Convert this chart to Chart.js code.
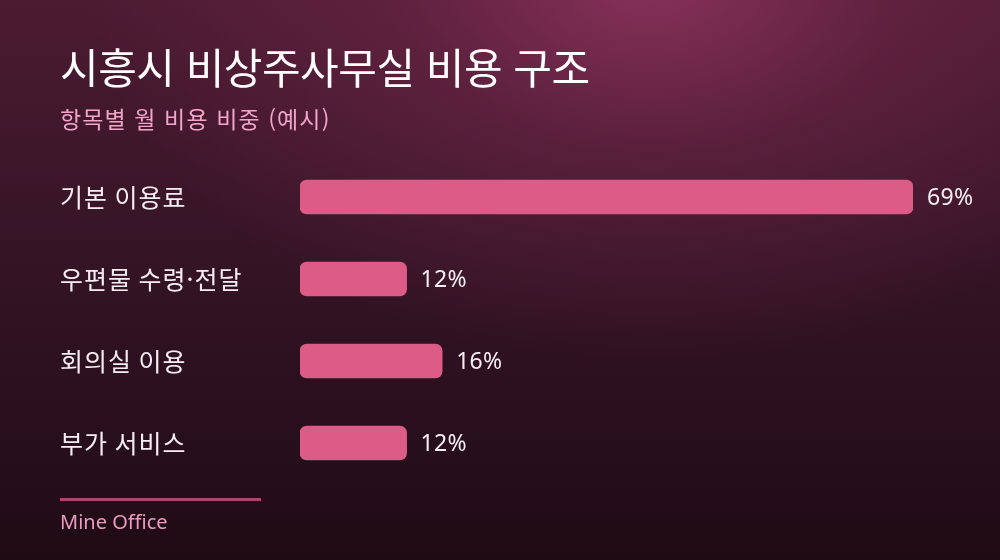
<!DOCTYPE html>
<html lang="ko">
<head>
<meta charset="utf-8">
<script src="https://cdn.jsdelivr.net/npm/chart.js@4"></script>
<style>
  html,body{margin:0;padding:0;}
  body{
    width:1000px;height:560px;overflow:hidden;position:relative;
    background:
      radial-gradient(ellipse 560px 380px at 650px -20px, rgba(138,50,92,0.95) 0%, rgba(110,38,72,0.55) 45%, rgba(80,28,52,0) 100%),
      linear-gradient(180deg, #4c1b32 0%, #351426 45%, #1f0b14 100%);
    font-family:"Noto Sans CJK KR","Noto Sans",sans-serif;
  }
  #wrap{position:absolute;left:0;top:0;width:1000px;height:560px;}
  .title{position:absolute;left:60px;top:41px;color:#fff;font-size:42px;font-weight:400;letter-spacing:-0.5px;white-space:nowrap;line-height:1.2;}
  .sub{position:absolute;left:60px;top:105px;color:#f2a4c9;font-size:23px;white-space:nowrap;letter-spacing:1.1px;line-height:1.2;}
  .rule{position:absolute;left:60px;top:498px;width:201px;height:3px;background:#a8466f;}
  .foot{position:absolute;left:60px;top:508px;color:#e99bc1;font-size:20px;font-family:"Noto Sans",sans-serif;}
</style>
</head>
<body>
<div id="wrap"><canvas id="chart"></canvas></div>
<div class="title">시흥시 비상주사무실 비용 구조</div>
<div class="sub">항목별 월 비용 비중 (예시)</div>
<div class="rule"></div>
<div class="foot">Mine Office</div>
<script>
// ===== data =====
const categories = ["기본 이용료", "우편물 수령·전달", "회의실 이용", "부가 서비스"];
const shares = [69, 12, 16, 12];

const BAR_COLOR = "#dc5c87";

// a little extra tracking for the category labels
const tickSpacing = {
  id: "tickSpacing",
  beforeDraw(chart){ chart.ctx.letterSpacing = "1px"; },
  afterDraw(chart){ chart.ctx.letterSpacing = "0px"; }
};

// value label drawn right after each bar
const valueLabels = {
  id: "valueLabels",
  afterDatasetsDraw(chart){
    const ctx = chart.ctx;
    const meta = chart.getDatasetMeta(0);
    ctx.save();
    ctx.letterSpacing = "0.3px";
    ctx.fillStyle = "#f7eef3";
    ctx.font = "23px 'Noto Sans', sans-serif";
    ctx.textBaseline = "middle";
    ctx.textAlign = "left";
    meta.data.forEach((bar, i) => {
      ctx.fillText(shares[i] + "%", bar.x + 14, bar.y + 1);
    });
    ctx.restore();
  }
};

function initializeChart(){
  const ctx = document.getElementById("chart").getContext("2d");
  new Chart(ctx, {
    type: "bar",
    data: {
      labels: categories,
      datasets: [{
        data: shares,
        backgroundColor: BAR_COLOR,
        borderRadius: 7,
        borderSkipped: false,
        barThickness: 34
      }]
    },
    options: {
      indexAxis: "y",
      animation: false,
      responsive: true,
      maintainAspectRatio: false,
      layout: { padding: { left: 60, right: 87, top: 156, bottom: 76 } },
      scales: {
        x: {
          min: 0, max: 69,
          display: false,
          grid: { display: false }
        },
        y: {
          grid: { display: false },
          border: { display: false },
          afterFit(scale){ scale.width = 240; },
          ticks: {
            crossAlign: "far",
            color: "#f5edf1",
            padding: 0,
            font: { family: "'Noto Sans CJK KR', sans-serif", size: 25 }
          }
        }
      },
      plugins: {
        legend: { display: false },
        tooltip: { enabled: false }
      }
    },
    plugins: [tickSpacing, valueLabels]
  });
}

document.addEventListener("DOMContentLoaded", initializeChart);
</script>
</body>
</html>
